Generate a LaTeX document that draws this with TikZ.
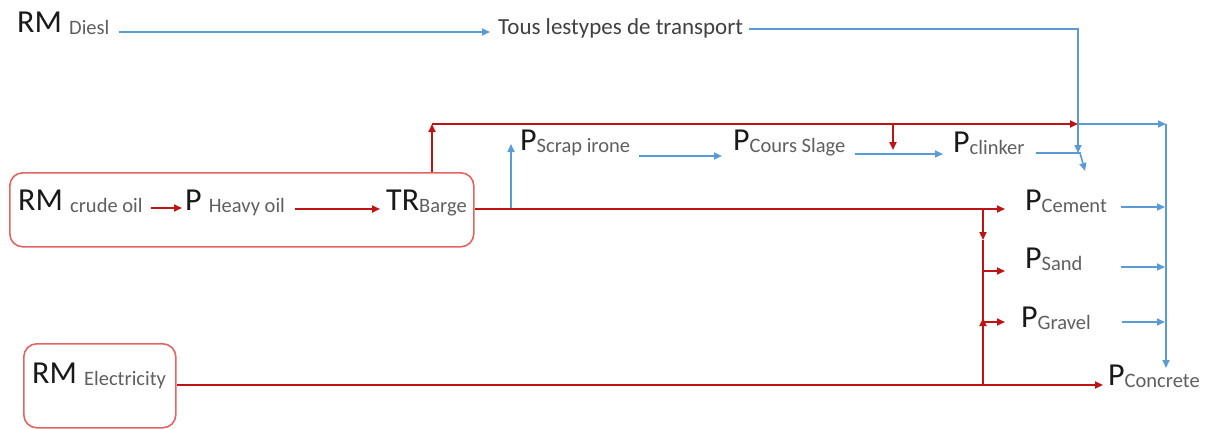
\documentclass[tikz,border=0pt]{standalone}
\usepackage{fontspec}
\setmainfont{Carlito}
\usetikzlibrary{arrows.meta}
\definecolor{flowred}{RGB}{192,20,20}
\definecolor{boxred}{RGB}{228,100,100}
\definecolor{flowblue}{RGB}{91,155,213}
\definecolor{subgray}{RGB}{95,95,95}
\newcommand{\subtxt}[1]{{\fontsize{20.5}{22}\selectfont\color{subgray}\raisebox{-2pt}{#1}}}

\begin{document}
\begin{tikzpicture}[x=1pt,y=-1pt,
  lbl/.style={anchor=base west,inner sep=0pt,font=\fontsize{32}{34}\selectfont,text=black!90},
  redflow/.style={draw=flowred,line width=1.8pt,-{Triangle[length=8pt,width=7pt]}},
  blueflow/.style={draw=flowblue,line width=1.6pt,-{Triangle[length=8pt,width=7pt]}},
  redline/.style={draw=flowred,line width=1.8pt},
  groupbox/.style={draw=boxred,line width=1.6pt,rounded corners=13pt,anchor=north west,inner sep=0pt}]
  \useasboundingbox (0,0) rectangle (1206,428);

  \node[groupbox,minimum width=464pt,minimum height=74pt] (oilbox) at (9,172) {};
  \node[groupbox,minimum width=152pt,minimum height=84pt] (elecbox) at (23,343) {};

  \node[lbl] (diesel) at (17,33) {RM \subtxt{Diesl}};
  \node[lbl,font=\fontsize{23}{26}\selectfont,text=black!75] (tous) at (498,35) {Tous lestypes de transport};
  \node[lbl] (crude) at (18,210) {RM \subtxt{crude oil}};
  \node[lbl] (heavy) at (185,210) {P \subtxt{Heavy oil}};
  \node[lbl] (barge) at (386,210) {TR\subtxt{Barge}};
  \node[lbl] (scrap) at (520,150) {P\subtxt{Scrap irone}};
  \node[lbl] (cours) at (733,150) {P\subtxt{Cours Slage}};
  \node[lbl] (clinker) at (953,152) {P\subtxt{clinker}};
  \node[lbl] (cement) at (1025,210) {P\subtxt{Cement}};
  \node[lbl] (sand) at (1025,268) {P\subtxt{Sand}};
  \node[lbl] (gravel) at (1021,327) {P\subtxt{Gravel}};
  \node[lbl] (concrete) at (1108,385) {P\subtxt{Concrete}};
  \node[lbl] (elec) at (32,383) {RM \subtxt{Electricity}};

  \coordinate (upleft) at (432,124);
  \coordinate (uptop) at (1078,124);
  \coordinate (slagedrop) at (893,124);
  \coordinate (slagetip) at (893,150);
  \coordinate (scrapfoot) at (511,209);
  \coordinate (scraptip) at (511,144);
  \coordinate (clinkerbend) at (1080,153);
  \coordinate (clinkertip) at (1085,171);
  \coordinate (transtip) at (1078,153);
  \coordinate (cemsplit) at (983,209);
  \coordinate (cemdown) at (983,240);
  \coordinate (sandsplit) at (983,271);
  \coordinate (gravsplit) at (983,322);
  \coordinate (gravup) at (983,318);
  \coordinate (elecsplit) at (983,385);
  \coordinate (collect) at (1166,124);
  \coordinate (collecttip) at (1166,368);
  \coordinate (cemout) at (1121,207);
  \coordinate (sandout) at (1121,267);
  \coordinate (gravout) at (1122,322);

  % fuel and transport
  \draw[blueflow,shorten <=9pt,shorten >=8pt] ([yshift=1pt]diesel.base east) -- ([yshift=1pt]diesel.base east -| tous.west);
  \draw[blueflow,shorten <=6pt] ([yshift=6pt]tous.base east) -| (transtip);
  \draw[redflow,shorten <=8pt,shorten >=3pt] ([yshift=2pt]crude.base east) -- ([yshift=2pt]heavy.base west);
  \draw[redflow,shorten <=10pt,shorten >=6pt] ([yshift=1pt]heavy.base east) -- ([yshift=1pt]heavy.base east -| barge.west);
  \draw[redflow] (oilbox.north -| upleft) -- (upleft);
  \draw[redflow] (upleft) -- (uptop);
  \draw[redflow] (slagedrop) -- (slagetip);
  \draw[blueflow] (uptop) -- (collect);

  % scrap, slag and clinker
  \draw[blueflow] (scrapfoot) -- (scraptip);
  \draw[blueflow,shorten <=9pt,shorten >=11pt] ([yshift=-6pt]scrap.base east) -- ([yshift=-6pt]scrap.base east -| cours.west);
  \draw[blueflow,shorten <=9pt,shorten >=10pt] ([yshift=-4pt]cours.base east) -- ([yshift=-4pt]cours.base east -| clinker.west);
  \draw[blueflow,shorten <=11pt] ([yshift=-1pt]clinker.base east) -- (clinkerbend) -- (clinkertip);

  % aggregates
  \draw[redflow,shorten >=20pt] (scrapfoot -| oilbox.east) -- (scrapfoot -| cement.west);
  \draw[redflow] (cemsplit) -- (cemdown);
  \draw[redline] (cemdown) -- (elecsplit);
  \draw[redflow,shorten >=20pt] (sandsplit) -- (sandsplit -| sand.west);
  \draw[redflow] (elecsplit) -- (gravup);
  \draw[redflow,shorten >=16pt] (gravsplit) -- (gravsplit -| gravel.west);
  \draw[redflow,shorten >=5pt] (elecsplit -| elecbox.east) -- (elecsplit -| concrete.west);

  % concrete
  \draw[blueflow] (collect) -- (collecttip);
  \draw[blueflow,shorten >=1pt] (cemout) -- (cemout -| collect);
  \draw[blueflow,shorten >=1pt] (sandout) -- (sandout -| collect);
  \draw[blueflow,shorten >=1pt] (gravout) -- (gravout -| collect);
\end{tikzpicture}
\end{document}
